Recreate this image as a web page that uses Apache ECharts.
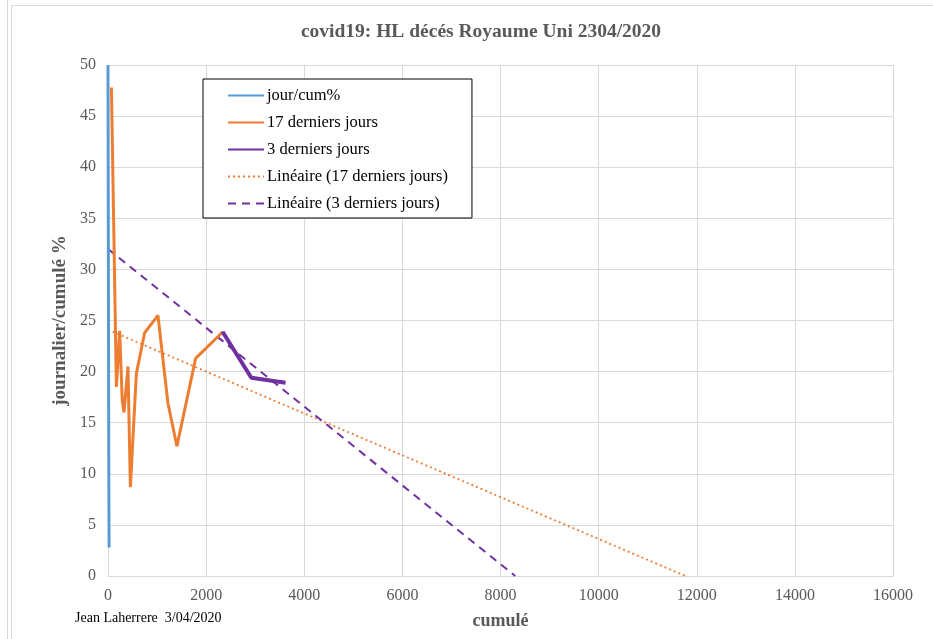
<!DOCTYPE html>
<html>
<head>
<meta charset="utf-8">
<script src="https://cdn.jsdelivr.net/npm/echarts@6/dist/echarts.min.js"></script>
<style>
    html, body {margin: 0; padding: 0; background: #fff;}
    #chart {width: 933px; height: 639px;}
</style>
</head>
<body>
<div id="chart"></div>
<script>
// jour/cum% (toute la série, tassée près de 0)
var jourCum = [[0, 50], [8, 30], [15, 12], [22, 2.8]];
// 17 derniers jours : [cumulé, journalier/cumulé %]
var derniers17 = [
    [70, 47.8], [171, 18.5], [238, 24.0], [290, 17.2], [326, 16.0], [407, 20.5],
    [456, 8.7], [578, 19.8], [747, 23.8], [1018, 25.5], [1222, 16.9], [1405, 12.7],
    [1786, 21.3], [2342, 23.9]
];
// 3 derniers jours
var derniers3 = [[2335, 23.9], [2921, 19.4], [3619, 18.9]];
// tendances linéaires
var lin17 = [[0, 24.1], [11770, 0]];
var lin3 = [[0, 32.0], [8300, 0]];

var serif = '"Liberation Serif", "DejaVu Serif", serif';
var grey = '#595959';

var chart = echarts.init(document.getElementById('chart'));

var option = {
    animation: false,
    title: {
        text: 'covid19: HL décés Royaume Uni 2304/2020',
        left: 476,
        textAlign: 'center',
        top: 17,
        textStyle: {fontFamily: serif, fontSize: 19.5, fontWeight: 'bold', color: grey}
    },
    grid: {left: 108, right: 40, top: 65, bottom: 63},
    legend: {
        orient: 'vertical',
        left: 203,
        top: 79,
        padding: [8, 24, 6, 24],
        itemWidth: 36,
        itemHeight: 14,
        itemGap: 10,
        backgroundColor: '#fff',
        borderColor: '#000',
        borderWidth: 1,
        itemStyle: {opacity: 0},
        textStyle: {fontFamily: serif, fontSize: 16.5, color: '#000', padding: [0, 0, 0, -2]},
        data: ['jour/cum%', '17 derniers jours', '3 derniers jours',
            'Linéaire (17 derniers jours)', 'Linéaire (3 derniers jours)']
    },
    xAxis: {
        type: 'value',
        min: 0, max: 16000, interval: 2000,
        name: 'cumulé',
        nameLocation: 'middle',
        nameGap: 36,
        nameTextStyle: {fontFamily: serif, fontSize: 18, fontWeight: 'bold', color: grey},
        axisLine: {lineStyle: {color: '#d9d9d9'}},
        axisTick: {show: false},
        axisLabel: {fontFamily: serif, fontSize: 16, color: grey, margin: 12,
            formatter: function (v) { return String(v); }},
        splitLine: {lineStyle: {color: '#d9d9d9'}}
    },
    yAxis: {
        type: 'value',
        min: 0, max: 50, interval: 5,
        name: 'journalier/cumulé %',
        nameLocation: 'middle',
        nameGap: 30,
        nameTextStyle: {fontFamily: serif, fontSize: 19, fontWeight: 'bold', color: grey},
        axisLine: {show: false},
        axisTick: {show: false},
        axisLabel: {fontFamily: serif, fontSize: 16, color: grey, margin: 12},
        splitLine: {lineStyle: {color: '#d9d9d9'}}
    },
    series: [
        {
            name: 'jour/cum%', type: 'line', data: jourCum, symbol: 'none',
            color: '#5b9bd5', lineStyle: {width: 3}, z: 3
        },
        {
            name: '17 derniers jours', type: 'line', data: derniers17, symbol: 'none',
            color: '#ed7d31', lineStyle: {width: 3}, z: 4
        },
        {
            name: '3 derniers jours', type: 'line', data: derniers3, symbol: 'none',
            color: '#7030a0', lineStyle: {width: 4}, z: 5
        },
        {
            name: 'Linéaire (17 derniers jours)', type: 'line', data: lin17, symbol: 'none',
            color: '#ed7d31', lineStyle: {width: 1.8, type: [2, 3]}, z: 2
        },
        {
            name: 'Linéaire (3 derniers jours)', type: 'line', data: lin3, symbol: 'none',
            color: '#7030a0', lineStyle: {width: 2, type: [8, 6]}, z: 2
        }
    ],
    graphic: [
        {type: 'line', shape: {x1: 7.5, y1: 0, x2: 7.5, y2: 639}, style: {stroke: '#d9d9d9', lineWidth: 1}},
        {type: 'line', shape: {x1: 11.5, y1: 5.5, x2: 11.5, y2: 639}, style: {stroke: '#d9d9d9', lineWidth: 1}},
        {type: 'line', shape: {x1: 11.5, y1: 5.5, x2: 933, y2: 5.5}, style: {stroke: '#d9d9d9', lineWidth: 1}},
        {
            type: 'text', left: 75, top: 611,
            style: {text: 'Jean Laherrere  3/04/2020', fill: '#000', font: '14px ' + serif}
        }
    ]
};

chart.setOption(option);
</script>
</body>
</html>
